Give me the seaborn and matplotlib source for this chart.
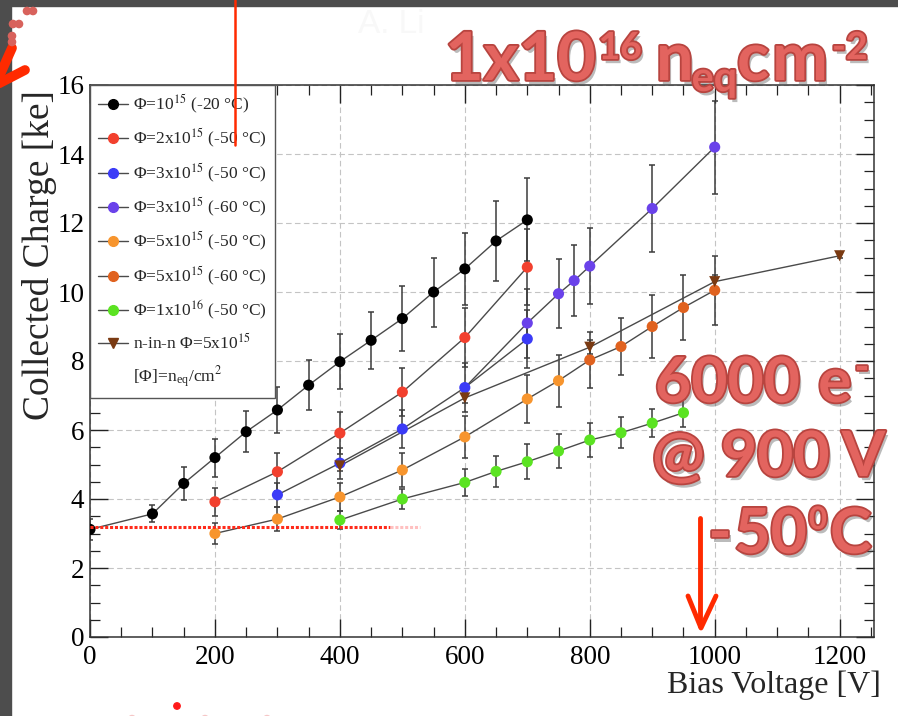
import matplotlib
matplotlib.use("Agg")
import matplotlib.pyplot as plt
import matplotlib.patheffects as pe
from matplotlib.lines import Line2D
from matplotlib.patches import Rectangle, Circle
import pandas as pd
import seaborn as sns

# ---------------- data: collected charge [ke] vs bias voltage [V] ----------------
LABELS = [
    "Φ=10$^{15}$ (-20 °C)",
    "Φ=2x10$^{15}$ (-50 °C)",
    "Φ=3x10$^{15}$ (-50 °C)",
    "Φ=3x10$^{15}$ (-60 °C)",
    "Φ=5x10$^{15}$ (-50 °C)",
    "Φ=5x10$^{15}$ (-60 °C)",
    "Φ=1x10$^{16}$ (-50 °C)",
    "n-in-n Φ=5x10$^{15}$",
]
UNIT_LABEL = "[Φ]=n$_{\\mathregular{eq}}$/cm$^{2}$"

V_1E15_M20 = [0, 100, 150, 200, 250, 300, 350, 400, 450, 500, 550, 600, 650, 700]
Q_1E15_M20 = [3.12, 3.57, 4.45, 5.2, 5.95, 6.58, 7.3, 7.98, 8.6, 9.23, 10.0, 10.67, 11.48, 12.09]
E_1E15_M20 = [0.3, 0.25, 0.48, 0.55, 0.6, 0.68, 0.72, 0.8, 0.82, 0.95, 1.0, 1.05, 1.15, 1.2]

V_2E15_M50 = [200, 300, 400, 500, 600, 700]
Q_2E15_M50 = [3.92, 4.79, 5.91, 7.1, 8.68, 10.72]
E_2E15_M50 = [0.4, 0.55, 0.6, 0.7, 0.85, 1.1]

V_3E15_M50 = [300, 400, 500, 600, 700]
Q_3E15_M50 = [4.12, 5.04, 6.03, 7.23, 8.64]
E_3E15_M50 = [0.35, 0.45, 0.55, 0.7, 0.85]

V_3E15_M60 = [700, 750, 775, 800, 900, 1000]
Q_3E15_M60 = [9.1, 9.95, 10.33, 10.75, 12.42, 14.2]
E_3E15_M60 = [1.0, 1.0, 1.02, 1.1, 1.25, 1.35]

V_5E15_M50 = [200, 300, 400, 500, 600, 700, 750]
Q_5E15_M50 = [3.0, 3.42, 4.06, 4.84, 5.8, 6.9, 7.43]
E_5E15_M50 = [0.3, 0.35, 0.4, 0.5, 0.6, 0.7, 0.75]

V_5E15_M60 = [800, 850, 900, 950, 1000]
Q_5E15_M60 = [8.03, 8.42, 9.0, 9.55, 10.05]
E_5E15_M60 = [0.8, 0.83, 0.9, 0.95, 1.0]

V_1E16_M50 = [400, 500, 600, 650, 700, 750, 800, 850, 900, 950]
Q_1E16_M50 = [3.39, 4.0, 4.48, 4.8, 5.08, 5.39, 5.71, 5.92, 6.2, 6.5]
E_1E16_M50 = [0.25, 0.3, 0.4, 0.45, 0.5, 0.5, 0.48, 0.45, 0.4, 0.4]

V_NINN = [400, 600, 800, 1000, 1200]
Q_NINN = [4.96, 6.93, 8.4, 10.3, 11.05]
E_NINN = [0.15, 0.15, 0.2, 0.2, 0.05]

COLORS = ["#000000", "#F2402E", "#3B3BF7", "#6A42EA", "#F7952E", "#E0621F", "#5BE322", "#7A3A12"]
MARKERS = ["o", "o", "o", "o", "o", "o", "o", "v"]

XTICKS = [0, 200, 400, 600, 800, 1000, 1200]
YTICKS = [0, 2, 4, 6, 8, 10, 12, 14, 16]

SERIES = [
    (V_1E15_M20, Q_1E15_M20, E_1E15_M20),
    (V_2E15_M50, Q_2E15_M50, E_2E15_M50),
    (V_3E15_M50, Q_3E15_M50, E_3E15_M50),
    (V_3E15_M60, Q_3E15_M60, E_3E15_M60),
    (V_5E15_M50, Q_5E15_M50, E_5E15_M50),
    (V_5E15_M60, Q_5E15_M60, E_5E15_M60),
    (V_1E16_M50, Q_1E16_M50, E_1E16_M50),
    (V_NINN, Q_NINN, E_NINN),
]

# long table for seaborn
rows = []
for lab, (vs, qs, es) in zip(LABELS, SERIES):
    for v, q, e in zip(vs, qs, es):
        rows.append({"V": v, "Q": q, "err": e, "series": lab})
df = pd.DataFrame(rows)

# connecting lines; the -60 °C runs continue from a -50 °C point of the same fluence
line_rows = []
for i, (lab, (vs, qs, es)) in enumerate(zip(LABELS, SERIES)):
    pts = list(zip(vs, qs))
    if i == 3:
        pts = [(V_3E15_M50[-2], Q_3E15_M50[-2])] + pts
    if i == 5:
        pts = [(V_5E15_M50[-1], Q_5E15_M50[-1])] + pts
    for v, q in pts:
        line_rows.append({"V": v, "Q": q, "line": i})
df_lines = pd.DataFrame(line_rows)

# ---------------- style ----------------
sns.set_theme(style="ticks")
plt.rcParams["font.family"] = ["Liberation Serif", "DejaVu Serif"]
plt.rcParams["mathtext.fontset"] = "stix"

W, H = 898, 716
fig = plt.figure(figsize=(W / 100, H / 100), dpi=100)
fig.patch.set_facecolor("white")

X0, X1, YT, YB = 90, 874, 85, 637
ax = fig.add_axes([X0 / W, 1 - YB / H, (X1 - X0) / W, (YB - YT) / H])

ax.grid(True, which="major", color="#c4c4c4", ls=(0, (5, 3)), lw=0.8)

sns.lineplot(data=df_lines, x="V", y="Q", units="line", estimator=None, sort=False,
             color="#4a4a4a", lw=1.0, ax=ax, legend=False, zorder=3)

for (vs, qs, es) in SERIES:
    ax.errorbar(vs, qs, yerr=es, fmt="none", ecolor="#3c3c3c", elinewidth=1.1,
                capsize=2.2, capthick=1.1, zorder=2)

palette = dict(zip(LABELS, COLORS))
markers = dict(zip(LABELS, MARKERS))
sns.scatterplot(data=df, x="V", y="Q", hue="series", style="series", palette=palette,
                markers=markers, s=64, linewidth=0, ax=ax, legend=False, zorder=4)

ax.set_xlim(0, 1255)
ax.set_ylim(0, 16)
ax.set_xticks(XTICKS)
ax.set_yticks(YTICKS)
ax.set_xticks(range(0, 1251, 50), minor=True)
ax.set_yticks([y / 2 for y in range(0, 33)], minor=True)
ax.tick_params(which="both", direction="in", top=True, right=True, colors="#222222",
               labelsize=19.5, labelcolor="black")
ax.tick_params(which="major", length=13, width=1.0)
ax.tick_params(which="minor", length=7, width=0.9)
ax.tick_params(axis="x", pad=6)
ax.tick_params(axis="y", pad=4)
for s in ax.spines.values():
    s.set_color("#333333")
    s.set_linewidth(1.1)

ax.set_xlabel("Bias Voltage [V]", fontsize=23, loc="right")
ax.xaxis.set_label_coords((881 - X0) / (X1 - X0), -(671 - YB) / (YB - YT))
ax.set_ylabel("Collected Charge [ke]", fontsize=27, loc="top")
ax.yaxis.set_label_coords(-(X0 - 57) / (X1 - X0), 0.99)

# legend
handles = [Line2D([0], [0], color="#4a4a4a", lw=1.0, marker=m, markersize=7,
                  markerfacecolor=c, markeredgecolor=c) for c, m in zip(COLORS, MARKERS)]
handles.append(Line2D([0], [0], color="none"))
leg = ax.legend(handles, LABELS + [UNIT_LABEL], loc="upper left", bbox_to_anchor=(0, 1),
                borderaxespad=0, fancybox=False, frameon=True, edgecolor="#555555",
                framealpha=1, fontsize=12.5, handlelength=1.75, handletextpad=0.3,
                labelspacing=0.64, borderpad=0.45)
leg.get_frame().set_linewidth(1.0)
leg.set_zorder(6)

# ---------------- slide overlay ----------------
ov = fig.add_axes([0, 0, 1, 1], zorder=10)
ov.set_xlim(0, W)
ov.set_ylim(H, 0)
ov.axis("off")
ov.patch.set_alpha(0)

ov.add_patch(Rectangle((0, 0), 11, H, color="#4d4d4d", zorder=1))
ov.add_patch(Rectangle((0, 0), W, 6, color="#4d4d4d", zorder=1))

ov.text(358, 33, "A. Li", fontsize=24, color="#f8f8f8", fontfamily="Liberation Sans", zorder=1)

# threshold line at the start of the black curve
ov.plot([X0, 390], [527, 527], color="#ff2a1a", lw=2.2, ls=(0, (1, 0.6)), zorder=2)
ov.plot([390, 420], [527, 527], color="#ffc0c0", lw=2.2, ls=(0, (1, 0.6)), zorder=2)

# red pen strokes
ov.plot([235, 235], [0, 145], color="#ff2a00", lw=1.8, zorder=3)
ov.plot([700, 700], [518, 626], color="#ff2a00", lw=3.5, solid_capstyle="round", zorder=3)
ov.plot([688, 701, 716], [596, 628, 596], color="#ff2a00", lw=3.5,
        solid_capstyle="round", solid_joinstyle="round", zorder=3)
ov.plot([12, -6], [48, 88], color="#ff2a00", lw=7, solid_capstyle="round", zorder=3)
ov.plot([25, -6], [70, 86], color="#ff2a00", lw=7, solid_capstyle="round", zorder=3)
for (cx, cy) in [(27, 11), (33, 11), (13, 24), (19, 24), (12, 36), (12, 42)]:
    ov.add_patch(Circle((cx, cy), 3.6, color="#d8625c", zorder=4))
ov.add_patch(Circle((177, 706), 3.2, color="#ff1a1a", zorder=4))
for cx in (132, 205, 267):
    ov.add_patch(Circle((cx, 719), 3.5, color="#f6c6c6", zorder=4))

# big glossy annotations, each line set run by run: (text, scale, shift up, gap before)
fx = [pe.SimplePatchShadow(offset=(2, -3), shadow_rgbFace="#555555", alpha=0.4),
      pe.Stroke(linewidth=2.6, foreground="#b8443f"), pe.Normal()]
big = dict(fontfamily="Lato", fontweight="bold", color="#e3645f",
           path_effects=fx, zorder=8, ha="left", va="baseline")
renderer = fig.canvas.get_renderer()


def set_runs(x, y, size, runs):
    for s, scale, up, gap in runs:
        x += gap
        t = ov.text(x, y - up, s, fontsize=size * scale, **big)
        x += t.get_window_extent(renderer).width


set_runs(445, 80, 48, [("1x10", 1, 0, 0), ("16", 0.56, 21, 3), ("n", 1, 0, 14),
                       ("eq", 0.62, -11, -2), ("c", 1, 0, 0), ("m", 1, 0, 3), ("-2", 0.56, 21, 4)])
set_runs(655, 402, 45, [("6000", 1, 0, 0), ("e", 1, 0, 18), ("-", 0.62, 22, 3)])
set_runs(652, 476, 45, [("@", 1, 0, 0), ("900", 1, 0, 16), ("V", 1, 0, 12)])
set_runs(708, 553, 45, [("-", 1, 0, 0), ("50", 1, 0, 3), ("0", 0.5, 24, 2), ("C", 1, 0, 3)])

fig.savefig("out.png", dpi=100)
